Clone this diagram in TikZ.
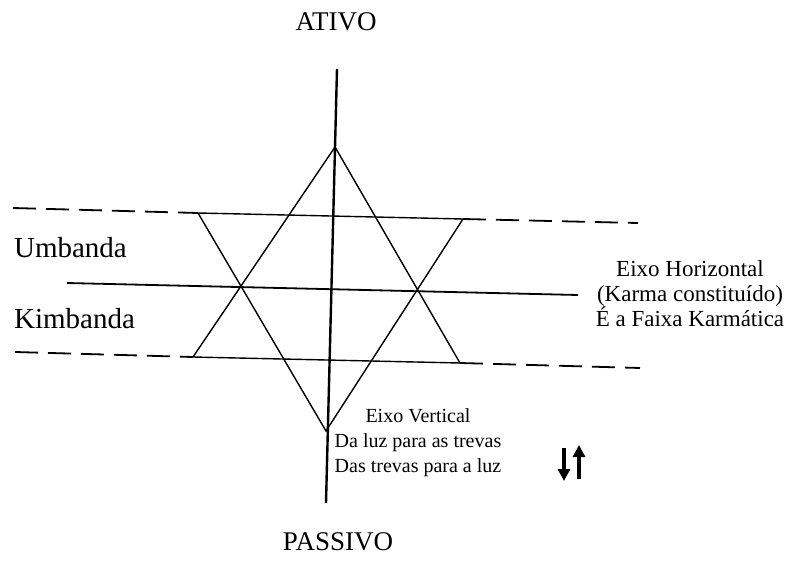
\documentclass[tikz,border=0pt]{standalone}
\usepackage{fontspec}
\setmainfont{Liberation Serif}
\usetikzlibrary{arrows.meta}

\begin{document}
\begin{tikzpicture}[x=0.5pt,y=-0.5pt,
  star line/.style={line width=0.7pt},
  band line/.style={line width=0.9pt},
  band dash/.style={line width=0.9pt,dash pattern=on 11.5pt off 5pt},
  axis line/.style={line width=1.2pt},
  pole/.style={font=\fontsize{13.5}{16}\selectfont},
  band label/.style={anchor=west,font=\fontsize{14.5}{17}\selectfont},
  note/.style={align=center,font=\fontsize{11.5}{12.5}\selectfont},
  small note/.style={align=center,font=\fontsize{10}{12.5}\selectfont},
  flow/.style={line width=1.8pt,-{Triangle[width=6pt,length=6pt]}}]

  \useasboundingbox (0,0) rectangle (805,562);

  \coordinate (top) at (337,69);
  \coordinate (bot) at (326,503);
  \coordinate (A) at (335,147);
  \coordinate (B) at (193,357);
  \coordinate (C) at (460,363);
  \coordinate (D) at (326,431);
  \coordinate (E) at (198,213);
  \coordinate (F) at (463,219);
  \coordinate (tl) at (13,208);
  \coordinate (tr) at (638,223);
  \coordinate (ml) at (67,283);
  \coordinate (mr) at (578,295);
  \coordinate (bl) at (15,352);
  \coordinate (br) at (640,368);

  \node[pole] (ativo) at (336,22) {ATIVO};
  \node[pole] (passivo) at (338,542) {PASSIVO};
  \node[band label] (umbanda) at (7,248) {Umbanda};
  \node[band label] (kimbanda) at (7,319) {Kimbanda};
  \node[note] (horizontal) at (690,294) {Eixo Horizontal\\(Karma constituído)\\É a Faixa Karmática};
  \node[small note] (vertical) at (418,443) {Eixo Vertical\\Da luz para as trevas\\Das trevas para a luz};

  \draw[axis line] (top) -- (bot);
  \draw[band line] (ml) -- (mr);
  \draw[band dash] (tl) -- (E);
  \draw[band dash] (F) -- (tr);
  \draw[band dash] (bl) -- (B);
  \draw[band dash] (C) -- (br);
  \draw[star line] (A) -- (B) -- (C) -- cycle;
  \draw[star line] (D) -- (E) -- (F) -- cycle;

  \coordinate (d1) at (564,448);
  \coordinate (d2) at (564,481);
  \coordinate (u1) at (579,479);
  \coordinate (u2) at (579,445);
  \draw[flow] (d1) -- (d2);
  \draw[flow] (u1) -- (u2);

\end{tikzpicture}
\end{document}
